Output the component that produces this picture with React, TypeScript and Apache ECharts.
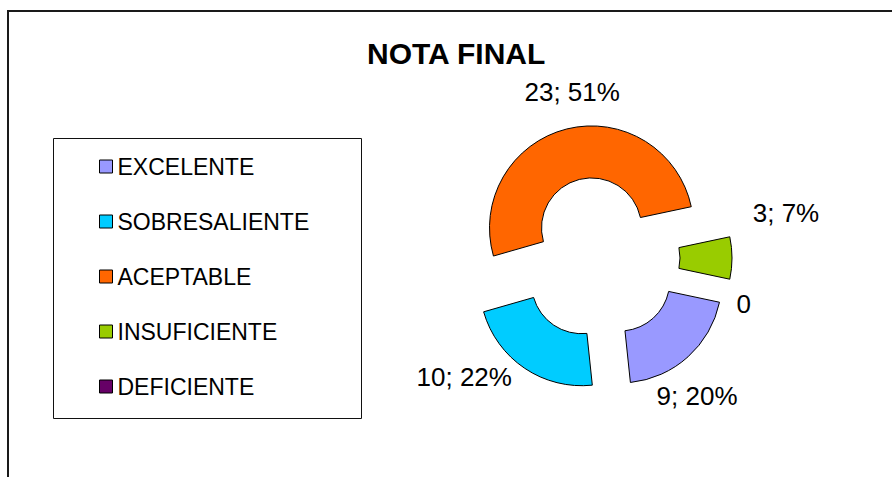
import React, { useEffect, useRef } from 'react';
import * as echarts from 'echarts';

// ---- data ----
const categories = ['EXCELENTE', 'SOBRESALIENTE', 'ACEPTABLE', 'INSUFICIENTE', 'DEFICIENTE'];
const counts = [9, 10, 23, 3, 0];
const sliceColors = ['#9999FF', '#00CCFF', '#FF6600', '#99CC00', '#660066'];
const chartTitle = 'NOTA FINAL';

// ---- layout ----
const CX = 599;
const CY = 258;
const R_IN = 50;
const R_OUT = 102;
const EXPLODE = 31;
const START_CW = 102; // degrees clockwise from 12 o'clock
// fine adjustments of the outside labels (pixels)
const labelNudge: number[][] = [
  [-36, 28],
  [-17, -4],
  [44, -22],
  [4, -45],
  [-35, 15],
];
const FONT = 'Arial, "Liberation Sans", sans-serif';

export default function App() {
  const ref = useRef<HTMLDivElement>(null);

  useEffect(() => {
    if (!ref.current) return;
    const chart = echarts.init(ref.current, undefined, { renderer: 'svg' });

    chart.setOption({
      animation: false,
      backgroundColor: '#ffffff',
      title: {
        text: chartTitle,
        left: 367,
        top: 38,
        padding: 0,
        textStyle: { fontFamily: FONT, fontSize: 30, fontWeight: 'bold', color: '#000' },
      },
      legend: {
        orient: 'vertical',
        left: 99,
        top: 155,
        padding: 0,
        itemWidth: 13,
        itemHeight: 13,
        itemGap: 32,
        icon: 'rect',
        selectedMode: false,
        itemStyle: { borderColor: '#000', borderWidth: 1 },
        textStyle: { fontFamily: FONT, fontSize: 23, lineHeight: 23, color: '#000' },
        data: categories,
      },
      graphic: [
        {
          type: 'polyline',
          shape: { points: [[8, 477], [8, 11], [892, 11]] },
          style: { stroke: '#1a1a1a', lineWidth: 2, fill: 'none' },
        },
        {
          type: 'rect',
          shape: { x: 53.5, y: 138.5, width: 308, height: 280 },
          style: { stroke: '#111', lineWidth: 1, fill: 'none' },
        },
      ],
      series: [
        {
          type: 'pie',
          center: [CX, CY],
          radius: [R_IN, R_OUT],
          startAngle: 90 - START_CW,
          clockwise: true,
          selectedMode: 'multiple',
          selectedOffset: EXPLODE,
          avoidLabelOverlap: false,
          emphasis: { disabled: true },
          itemStyle: { borderColor: '#000', borderWidth: 1 },
          label: {
            show: true,
            position: 'outside',
            fontFamily: FONT,
            fontSize: 26,
            color: '#000',
            formatter: (p: any) =>
              p.value === 0 ? '0' : `${p.value}; ${Math.round(p.percent)}%`,
          },
          labelLine: { show: false },
          labelLayout: (p: any) => ({
            dx: labelNudge[p.dataIndex][0],
            dy: labelNudge[p.dataIndex][1],
            align: 'center',
            verticalAlign: 'middle',
          }),
          data: categories.map((name, i) => ({
            name,
            value: counts[i],
            selected: true,
            itemStyle: {
              color: sliceColors[i],
              borderWidth: counts[i] === 0 ? 0 : 1,
            },
          })),
        },
      ],
    });

    return () => chart.dispose();
  }, []);

  return (
    <div
      ref={ref}
      style={{ position: 'fixed', left: 0, top: 0, width: 892, height: 477, background: '#fff' }}
    />
  );
}
